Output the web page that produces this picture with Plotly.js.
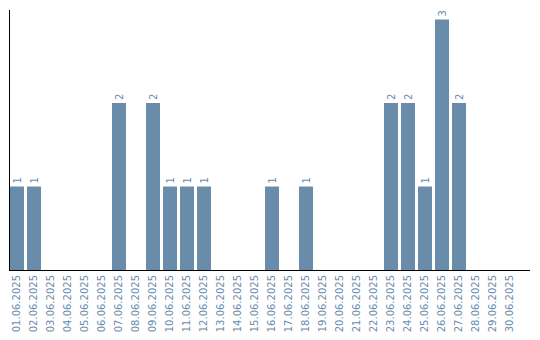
<!DOCTYPE html>
<html>
<head>
<meta charset="utf-8">
<script src="https://cdn.plot.ly/plotly-3.0.1.min.js"></script>
<style>html,body{margin:0;padding:0;background:#fff}#chart{width:540px;height:340px}</style>
</head>
<body>
<div id="chart"></div>
<script>
const dates = ["01.06.2025","02.06.2025","03.06.2025","04.06.2025","05.06.2025","06.06.2025","07.06.2025","08.06.2025","09.06.2025","10.06.2025","11.06.2025","12.06.2025","13.06.2025","14.06.2025","15.06.2025","16.06.2025","17.06.2025","18.06.2025","19.06.2025","20.06.2025","21.06.2025","22.06.2025","23.06.2025","24.06.2025","25.06.2025","26.06.2025","27.06.2025","28.06.2025","29.06.2025","30.06.2025"];
const counts = [1,1,0,0,0,0,2,0,2,1,1,1,0,0,0,1,0,1,0,0,0,0,2,2,1,3,2,0,0,0];
const labels = counts.map(v => v > 0 ? String(v) : "");

const barColor = "#6a8cab";
const textColor = "#6a8cab";

Plotly.newPlot("chart", [{
  type: "bar",
  x: dates,
  y: counts,
  text: labels,
  textposition: "outside",
  textangle: -90,
  cliponaxis: false,
  textfont: {family: "DejaVu Sans", size: 10, color: textColor},
  marker: {color: barColor},
  width: 14/17,
  hoverinfo: "none"
}], {
  width: 540,
  height: 340,
  margin: {l: 10, r: 10, t: 10, b: 70},
  paper_bgcolor: "#fff",
  plot_bgcolor: "#fff",
  showlegend: false,
  xaxis: {
    type: "category",
    range: [-0.412, 30.176],
    tickangle: -90,
    tickfont: {family: "DejaVu Sans", size: 10, color: textColor},
    showline: true,
    linecolor: "#000",
    linewidth: 1,
    showgrid: false,
    ticks: "",
    zeroline: false
  },
  yaxis: {
    range: [0, 3.114],
    showline: true,
    linecolor: "#000",
    linewidth: 1,
    showgrid: false,
    showticklabels: false,
    ticks: "",
    zeroline: false
  }
}, {staticPlot: true, displayModeBar: false});
</script>
</body>
</html>
